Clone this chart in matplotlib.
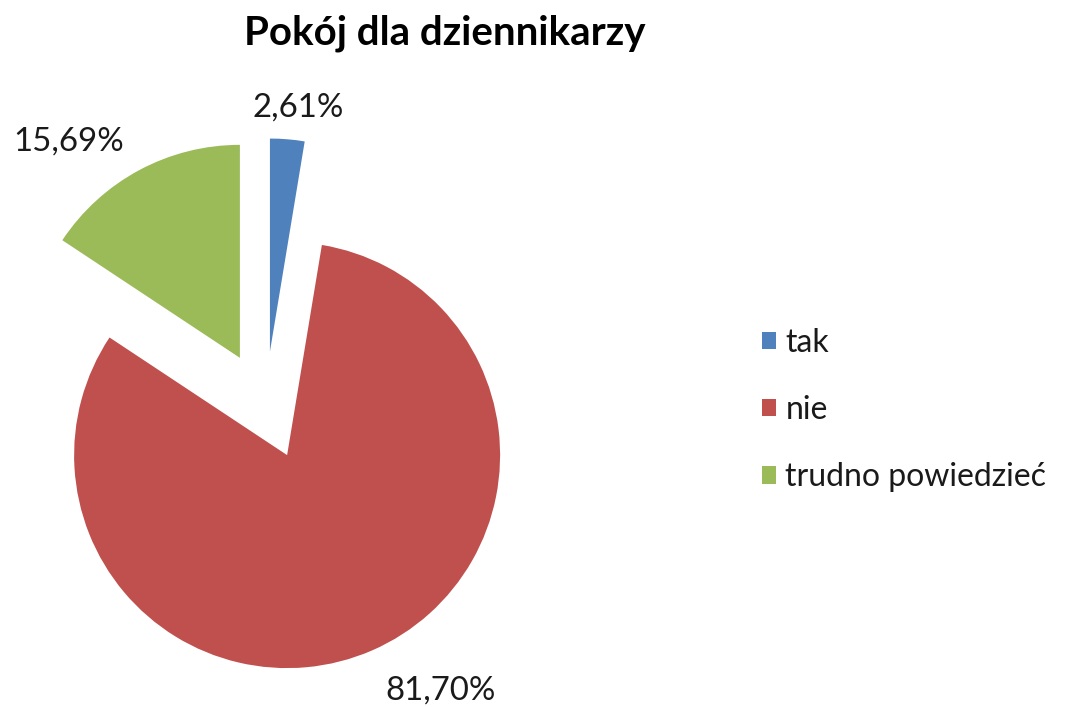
import matplotlib
matplotlib.use("Agg")
import matplotlib.pyplot as plt
from matplotlib.patches import Patch

title = "Pokój dla dziennikarzy"
categories = ["tak", "nie", "trudno powiedzieć"]
shares = [2.61, 81.70, 15.69]
colors = ["#4F81BD", "#C0504D", "#9BBB59"]
label_text = ["2,61%", "81,70%", "15,69%"]
# label positions (data units, pie radius = 1)
label_pos = [(0.153, 1.40), (0.82, -1.336), (-0.922, 1.24)]

plt.rcParams["font.family"] = ["Lato", "DejaVu Sans"]

fig = plt.figure(figsize=(10.69, 7.07), dpi=100)
W, H = 1069, 707
# axes box in pixels: x 10..540, y 60..700 ; scale 213 px per unit, centre at (265.5, 405.5)
s = 213.0
cx, cy = 265.5, 405.5
x0, x1, y0, y1 = 10, 540, 60, 700
ax = fig.add_axes([x0 / W, (H - y1) / H, (x1 - x0) / W, (y1 - y0) / H])
ax.pie(shares, colors=colors, startangle=90, counterclock=False,
       explode=[0.254] * 3, radius=1.0,
       wedgeprops=dict(linewidth=0))
ax.set_xlim(-(cx - x0) / s, (x1 - cx) / s)
ax.set_ylim(-(y1 - cy) / s, (cy - y0) / s)
ax.set_aspect("auto")
ax.axis("off")

for (lx, ly), t in zip(label_pos, label_text):
    ax.text(lx, ly, t, ha="center", va="center", fontsize=23.8, color="#1a1a1a")

fig.text(445 / W, 1 - 33 / H, title, ha="center", va="center",
         fontsize=29, fontweight="bold", color="black")

handles = [Patch(facecolor=c, edgecolor="none") for c in colors]
leg = fig.legend(handles, categories, loc="center left",
                 bbox_to_anchor=(762 / W, 1 - 410 / H), frameon=False,
                 borderaxespad=0, borderpad=0,
                 fontsize=23, handlelength=0.45, handleheight=0.45,
                 handletextpad=0.28, labelspacing=1.17)
for t in leg.get_texts():
    t.set_color("#1a1a1a")

fig.savefig("out.png", dpi=100)
